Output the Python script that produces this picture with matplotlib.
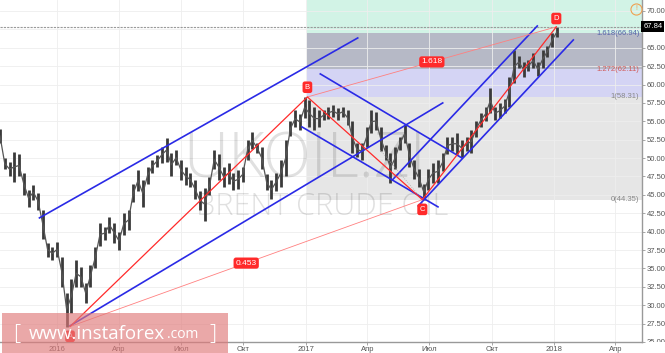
import matplotlib
matplotlib.use("Agg")
import matplotlib.pyplot as plt
from matplotlib.patches import Rectangle
from matplotlib.transforms import Bbox, TransformedBbox
import pandas as pd

plt.rcParams['font.family'] = ['Liberation Sans', 'DejaVu Sans']

# weekly price ranges
weeks = pd.date_range('2015-10-09', '2018-01-05', freq='W-FRI')
highs = [54.0, 50.0, 49.5, 50.8, 50.5, 48.0, 45.7, 46.4, 45.3, 43.0,
         38.5, 37.9, 38.6, 36.5, 31.7, 33.5, 36.2, 35.2, 33.0, 35.5,
         37.9, 41.2, 40.7, 42.0, 41.2, 40.0, 42.6, 43.0, 46.5, 48.4,
         47.0, 48.8, 49.8, 50.4, 51.5, 52.7, 50.7, 51.1, 49.8, 48.8,
         48.0, 47.0, 45.5, 46.0, 47.4, 51.1, 50.5, 48.8, 49.4, 48.0,
         48.4, 48.8, 52.5, 53.6, 52.1, 51.5, 47.8, 47.0, 48.0, 49.8,
         52.5, 55.0, 56.5, 56.0, 58.31, 57.9, 57.0, 56.5, 56.5, 57.0,
         57.2, 56.8, 57.0, 56.5, 55.0, 52.1, 52.1, 54.2, 56.5, 56.3,
         54.2, 51.8, 50.7, 51.5, 52.9, 54.5, 52.0, 49.8, 48.5, 46.5,
         48.5, 49.4, 49.8, 50.7, 52.9, 52.9, 53.4, 52.5, 52.8, 53.8,
         55.0, 56.1, 57.0, 59.5, 57.0, 57.5, 58.0, 61.0, 64.7, 63.9,
         63.0, 63.3, 64.3, 63.0, 64.7, 65.3, 67.0, 67.84]
lows = [52.0, 48.5, 47.5, 46.8, 47.5, 45.0, 43.4, 44.3, 43.0, 39.0,
        36.6, 36.2, 36.6, 32.5, 27.1, 29.0, 32.5, 32.5, 30.3, 32.5,
        35.0, 38.0, 38.9, 39.8, 38.5, 37.5, 39.5, 40.2, 44.0, 45.5,
        43.4, 46.5, 48.0, 48.8, 49.4, 49.5, 47.5, 49.0, 47.0, 46.3,
        46.1, 44.5, 43.0, 41.5, 45.0, 48.5, 47.0, 46.1, 46.5, 45.7,
        45.8, 46.8, 49.8, 51.2, 50.7, 48.5, 45.7, 44.4, 45.5, 46.1,
        47.5, 53.0, 54.2, 53.8, 55.5, 54.2, 53.8, 54.2, 55.2, 55.3,
        55.6, 55.2, 55.6, 54.5, 50.7, 50.2, 49.8, 51.5, 53.4, 53.8,
        51.0, 49.8, 46.6, 48.5, 51.1, 52.1, 48.8, 47.2, 46.1, 44.35,
        45.7, 46.6, 46.6, 48.2, 50.5, 51.0, 50.5, 50.2, 51.0, 50.7,
        52.9, 54.2, 55.0, 56.1, 55.2, 55.4, 56.1, 57.0, 60.2, 62.2,
        61.0, 61.8, 62.2, 61.1, 62.2, 63.7, 65.1, 66.5]

# ABCD pivots
piv_names = ['A', 'B', 'C', 'D']
piv_dates = ['2016-01-20', '2017-01-03', '2017-06-21', '2018-01-04']
piv_prices = [27.10, 58.31, 44.35, 67.84]

fib_labels = ['0(44.35)', '1(58.31)', '1.272(62.11)', '1.618(66.94)']
fib_levels = [44.35, 58.31, 62.11, 66.94]
last_price = 67.84

# channel lines: (start date, start price, end date, end price)
channels = [
    ('2015-12-06', 41.87, '2017-03-18', 66.33),
    ('2016-01-20', 27.20, '2017-07-21', 57.50),
    ('2017-01-22', 61.44, '2017-08-18', 50.03),
    ('2016-12-26', 54.24, '2017-07-14', 43.37),
    ('2017-05-08', 47.04, '2017-12-07', 67.96),
    ('2017-06-15', 43.50, '2018-01-29', 66.06),
]

tick_dates = ['2016-01-01', '2016-04-01', '2016-07-01', '2016-10-01', '2017-01-01',
              '2017-04-01', '2017-07-01', '2017-10-01', '2018-01-01', '2018-04-01']
tick_labels = ['2016', 'Апр', 'Июл', 'Окт', '2017', 'Апр', 'Июл', 'Окт', '2018', 'Апр']

fig = plt.figure(figsize=(6.65, 3.53), dpi=100)
ax = fig.add_axes([0, 11 / 353, 642 / 665, 342 / 353])

xmin = pd.Timestamp('2015-10-09')
xmax = pd.Timestamp('2018-05-10')
ytop = 71.49
ax.set_xlim(xmin, xmax)
ax.set_ylim(25.0, ytop)

# fib zones, starting at B
bdate = pd.Timestamp(piv_dates[1])
zone_cols = ['#e6e6e6', '#d4d4f4', '#b6b9c6', '#d2f3e6']
bounds = fib_levels + [ytop]
for i, c in enumerate(zone_cols):
    ax.fill_between([bdate, xmax], bounds[i], bounds[i + 1], color=c, lw=0, zorder=0)
lab_cols = ['#888888', '#888888', '#d05a5a', '#5566aa']
for lab, lev, c in zip(fib_labels, fib_levels, lab_cols):
    ax.text(0.996, lev, lab, transform=ax.get_yaxis_transform(), ha='right', va='center',
            fontsize=5.5, color=c, zorder=5)

ax.grid(True, color='#eeeeee', lw=0.6, zorder=0.5)
ax.set_axisbelow(True)

# watermark
wf = ['Open Sans', 'DejaVu Sans']
ax.text(pd.Timestamp('2016-12-30'), 47.4, 'UKOIL.ZI', fontsize=45, family=wf, weight='light',
        color='k', alpha=0.12, ha='center', va='baseline', zorder=1)
ax.text(pd.Timestamp('2017-01-24'), 42.3, 'BRENT CRUDE OIL', fontsize=22,
        family=wf, weight='light', color='k', alpha=0.12,
        ha='center', va='baseline', zorder=1)

# price bars
mids = [(h + l) / 2 for h, l in zip(highs, lows)]
ax.vlines(weeks, lows, highs, color='#3a3a3a', lw=2.0, zorder=2)
ax.plot(weeks, mids, color='#555555', lw=0.9, zorder=2)

ax.axhline(last_price, color='#9a9a9a', lw=0.8, ls=(0, (2, 1)), zorder=2.5)

for d0, p0, d1, p1 in channels:
    ax.plot([pd.Timestamp(d0), pd.Timestamp(d1)], [p0, p1], color='#2a2ae6', lw=1.2, zorder=3)

pd_dates = [pd.Timestamp(d) for d in piv_dates]
ax.plot(pd_dates, piv_prices, color='#ff2a2a', lw=0.9, zorder=3.2)
# ratio lines A-C and B-D
ax.plot([pd_dates[0], pd_dates[2]], [piv_prices[0], piv_prices[2]], color='#ff8080', lw=0.6, zorder=3.1)
ax.plot([pd_dates[1], pd_dates[3]], [piv_prices[1], piv_prices[3]], color='#ff8080', lw=0.6, zorder=3.1)
ax.plot([pd.Timestamp('2017-04-20'), pd_dates[2]], [51.1, piv_prices[2]], color='#aaaaaa',
        lw=0.6, ls=':', zorder=3)

box = dict(boxstyle='round,pad=0.25,rounding_size=0.3', fc='#ff2a2a', ec='none')
for (a, b), txt in [((0, 2), '0.453'), ((1, 3), '1.618')]:
    xm = pd_dates[a] + (pd_dates[b] - pd_dates[a]) / 2
    ym = (piv_prices[a] + piv_prices[b]) / 2
    ax.text(xm, ym, txt, fontsize=6, color='white', ha='center', va='center', bbox=box, zorder=4)

offsets = [-7, 7, -7, 6]
for n, d, p, off in zip(piv_names, pd_dates, piv_prices, offsets):
    ax.annotate(n, (d, p), xytext=(0, off), textcoords='offset points', fontsize=5.5,
                color='white', ha='center', va='center',
                bbox=dict(boxstyle='round,pad=0.3,rounding_size=0.3', fc='#ff2a2a', ec='none'),
                zorder=4, annotation_clip=False)

# warning icon
ax.plot([0.9907], [0.974], marker='o', ms=8, mfc='none', mec='#f0a050', mew=0.8,
        transform=ax.transAxes, clip_on=False, zorder=5)
ax.text(0.9907, 0.974, '!', transform=ax.transAxes, fontsize=5, color='#f0a050',
        ha='center', va='center', zorder=5)

# axes
for s in ['top', 'left']:
    ax.spines[s].set_visible(False)
for s in ['right', 'bottom']:
    ax.spines[s].set_color('#999999')
    ax.spines[s].set_linewidth(1.0)
ax.yaxis.tick_right()
yt = [25 + 2.5 * i for i in range(19)]
ax.set_yticks(yt)
# the last-price box sits where 67.50 would be
ax.set_yticklabels(['' if abs(v - last_price) < 1 else f'{v:.2f}' for v in yt])
ax.set_xticks([pd.Timestamp(d) for d in tick_dates])
ax.set_xticklabels(tick_labels)
ax.tick_params(axis='y', length=2, width=0.6, color='#999999', labelsize=5.5,
               labelcolor='#555555', pad=1.5)
ax.tick_params(axis='x', length=2, width=0.6, color='#999999', labelsize=5.5,
               labelcolor='#555555', pad=1)

# price-scale labels are clipped at the bottom of the scale
clip = TransformedBbox(Bbox([[0, 11 / 353], [1, 1]]), fig.transFigure)
for t in ax.get_yticklabels():
    t.set_clip_box(clip)
    t.set_clip_on(True)

ax.text(1.002, last_price, f'{last_price:.2f}', transform=ax.get_yaxis_transform(),
        fontsize=5.5, color='white', ha='left', va='center', clip_on=False, zorder=6,
        bbox=dict(boxstyle='square,pad=0.25', fc='black', ec='none'))

# logo
fig.patches.append(Rectangle((2 / 665, 0), 226 / 665, 40 / 353, transform=fig.transFigure,
                             fc='#e07a7a', alpha=0.65, ec='none', zorder=10))
lf = ['Open Sans', 'DejaVu Sans']
fig.text(13 / 665, 19 / 353, '[', fontsize=16, color='white', family=lf, weight='light',
         va='center', zorder=11)
fig.text(29 / 665, 19 / 353, 'www.instaforex', fontsize=13.5, color='white', family=lf,
         va='center', zorder=11)
fig.text(167 / 665, 18 / 353, '.com', fontsize=10, color='white', family=lf,
         va='center', zorder=11)
fig.text(209 / 665, 19 / 353, ']', fontsize=16, color='white', family=lf, weight='light',
         va='center', zorder=11)

fig.savefig('out.png', dpi=100)
